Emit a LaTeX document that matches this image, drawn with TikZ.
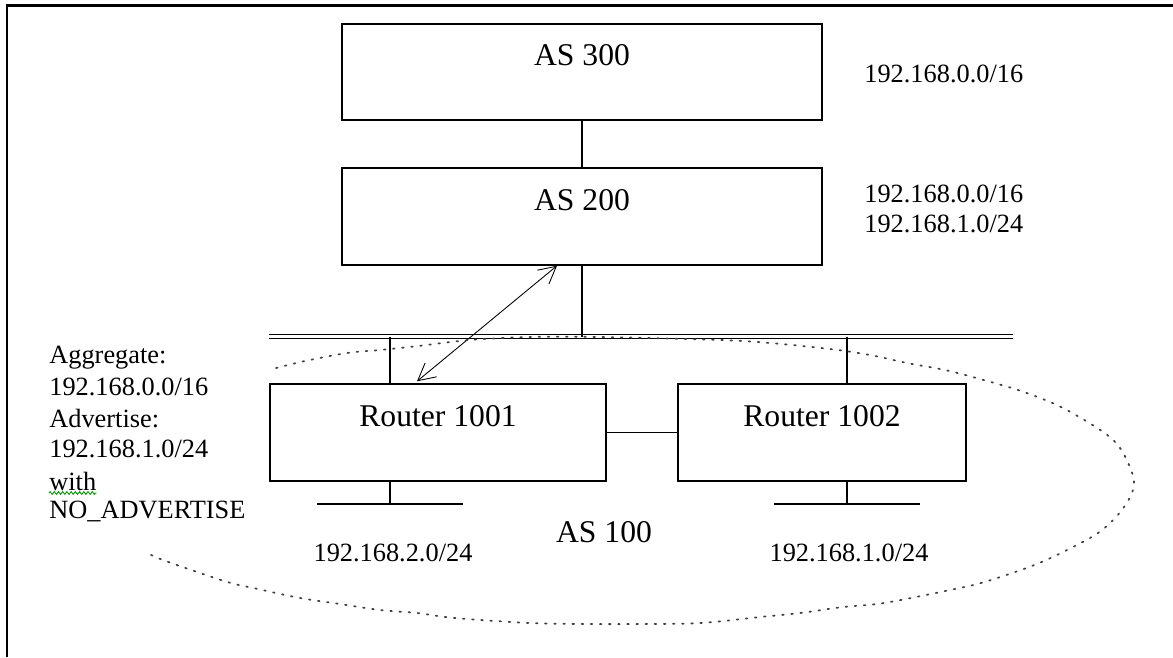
\documentclass[tikz,border=0pt]{standalone}
\usepackage{fontspec}
\setmainfont{Liberation Serif}
\usetikzlibrary{arrows.meta, decorations.pathmorphing}

\begin{document}
\begin{tikzpicture}[x=0.02cm, y=-0.02cm,
  netbox/.style={draw, line width=1.1pt, minimum height=1.93cm, inner sep=0pt},
  bigtxt/.style={anchor=base, inner sep=0pt, font=\fontsize{18}{21}\selectfont},
  iptxt/.style={anchor=base west, inner sep=0pt, font=\fontsize{15}{18}\selectfont},
  link/.style={line width=1.1pt},
  bus/.style={double, double distance=1.2pt, line width=0.7pt},
  peer/.style={{Straight Barb[length=3.4mm,width=3.6mm]}-{Straight Barb[length=3.4mm,width=3.6mm]}, line width=0.5pt},
  aslimit/.style={black!75, line width=1pt, dash pattern=on 0.9pt off 4.3pt, line cap=round}
]
  \useasboundingbox (0,0) rectangle (1173,657);
  \draw[line width=1.7pt] (7,657) -- (7,5) -- (1173,5);

  % upstream ASes
  \node[netbox, minimum width=9.6cm] (as300) at (582,72) {};
  \node[netbox, minimum width=9.6cm] (as200) at (582,216.5) {};
  \node[bigtxt] (as300txt) at (582,65) {AS 300};
  \node[bigtxt] (as200txt) at (582,210) {AS 200};
  \node[iptxt] (as300net) at (864,82) {192.168.0.0/16};
  \node[iptxt] (as200neta) at (864,202) {192.168.0.0/16};
  \node[iptxt] (as200netb) at (864,232) {192.168.1.0/24};

  % AS 100 routers
  \node[netbox, minimum width=6.72cm] (r1001) at (438,432.5) {};
  \node[netbox, minimum width=5.76cm] (r1002) at (822,432.5) {};
  \node[bigtxt] (r1001txt) at (438,426) {Router 1001};
  \node[bigtxt] (r1002txt) at (822,426) {Router 1002};
  \node[bigtxt] (as100txt) at (604,542) {AS 100};
  \node[anchor=base, inner sep=0pt, font=\fontsize{15}{18}\selectfont] (lan1net) at (393,561) {192.168.2.0/24};
  \node[anchor=base, inner sep=0pt, font=\fontsize{15}{18}\selectfont] (lan2net) at (849,561) {192.168.1.0/24};

  % policy note
  \node[iptxt] (aggtxt) at (49,363) {Aggregate:};
  \node[iptxt] (aggnet) at (49,395) {192.168.0.0/16};
  \node[iptxt] (advtxt) at (49,427) {Advertise:};
  \node[iptxt] (advnet) at (49,457) {192.168.1.0/24};
  \node[iptxt] (withtxt) at (49,490) {with};
  \node[iptxt] (commtxt) at (49,518) {NO\_ADVERTISE};
  \draw[green!60!black, line width=0.5pt, decorate, decoration={zigzag, segment length=2.4pt, amplitude=0.8pt}]
    ([yshift=-0.06cm]withtxt.base west) -- ([yshift=-0.06cm]withtxt.base east);

  % shared segment
  \coordinate (busL) at (269,336.5);
  \coordinate (busR) at (1013,336.5);
  \coordinate (tap1) at (390,336.5);
  \coordinate (tap2) at (847,336.5);
  \coordinate (lan1) at (390,504);
  \coordinate (lan2) at (847,504);
  \draw[bus] (busL) -- (busR);

  \draw[link] (as300.south) -- (as200.north);
  \draw[link] (as200.south) -- (as200.south |- busL);
  \draw[link] (tap1) -- (tap1 |- r1001.north);
  \draw[link] (tap2) -- (tap2 |- r1002.north);
  \draw[link] (r1001.east) -- (r1002.west);
  \draw[link] (tap1 |- r1001.south) -- (lan1);
  \draw[link] (tap2 |- r1002.south) -- (lan2);
  \draw[link] ([xshift=-1.46cm]lan1) -- ([xshift=1.46cm]lan1);
  \draw[link] ([xshift=-1.46cm]lan2) -- ([xshift=1.46cm]lan2);
  \draw[peer] ([xshift=-0.42cm, yshift=0.04cm]r1001.north) -- ([xshift=-0.5cm]as200.south);

  % AS 100 boundary
  \draw[aslimit] plot[smooth, tension=0.55] coordinates {
    (276,368) (305,361) (347,353) (380,350) (418,346) (470,340) (530,337) (600,337)
    (720,340) (770,343) (830,349) (870,355) (907,363) (945,370) (980,379) (1018,390)
    (1050,402) (1074,414) (1106,434) (1122,451) (1134,480) (1129,499) (1116,517)
    (1098,533) (1073,547) (1044,561) (1018,571) (981,583) (950,590) (884,603) (843,607)
    (800,613) (760,617) (700,623) (640,624) (590,624) (530,623) (455,618) (417,613)
    (380,610) (340,604) (300,598) (258,589) (231,583) (200,573) (163,560) (147,553)};
\end{tikzpicture}
\end{document}
